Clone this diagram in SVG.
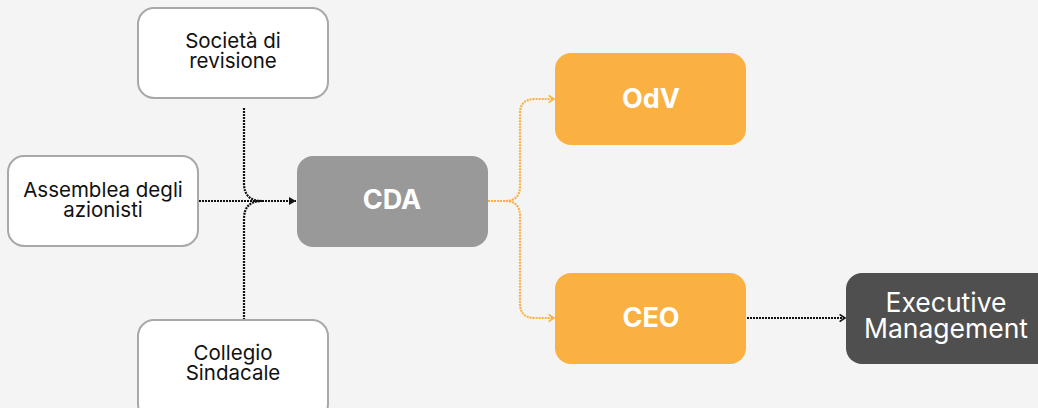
<svg xmlns="http://www.w3.org/2000/svg" width="1038" height="408" viewBox="0 0 1038 408">
<defs>
<style>
.box{fill:#ffffff;stroke:#a8a8a8;stroke-width:2}
.t{font-family:Inter,"Liberation Sans",sans-serif;font-size:20.5px;fill:#111;text-anchor:middle}
.tb{font-family:Inter,"Liberation Sans",sans-serif;font-size:27px;font-weight:700;fill:#fff;text-anchor:middle}
.tw{font-family:Inter,"Liberation Sans",sans-serif;font-size:26.5px;fill:#fff;text-anchor:middle}
.k{fill:none;stroke:#111;stroke-width:2.2;stroke-dasharray:2 1}
.o{fill:none;stroke:#fbb042;stroke-width:2.2;stroke-dasharray:2 1}
</style>
<marker id="ak" viewBox="0 0 10 10" refX="8" refY="5" markerWidth="10" markerHeight="10" markerUnits="userSpaceOnUse" orient="auto">
<path d="M1,1 L8,5 L1,9 Z" fill="#111"/>
</marker>
<marker id="ak2" viewBox="0 0 10 10" refX="8" refY="5" markerWidth="9" markerHeight="9" markerUnits="userSpaceOnUse" orient="auto">
<path d="M2,1 L8,5 L2,9" fill="none" stroke="#111" stroke-width="1.8"/>
</marker>
<marker id="ao" viewBox="0 0 10 10" refX="8" refY="5" markerWidth="9" markerHeight="9" markerUnits="userSpaceOnUse" orient="auto">
<path d="M2,1 L8,5 L2,9" fill="none" stroke="#fbb042" stroke-width="1.8"/>
</marker>
</defs>
<rect width="1038" height="408" fill="#f4f4f4"/>
<g id="connectors">
<path class="k" d="M244,108 V183 Q244,201 262,201"/>
<path class="k" d="M244,320 V219 Q244,201 262,201"/>
<path class="k" d="M199,201 H296" marker-end="url(#ak)"/>
<path class="o" d="M488,201 H505 Q520,201 520,186 V114 Q520,99 535,99 H554" marker-end="url(#ao)"/>
<path class="o" d="M488,201 H505 Q520,201 520,216 V303 Q520,318 535,318 H554" marker-end="url(#ao)"/>
<path class="k" d="M747,318 H845" marker-end="url(#ak2)"/>
</g>
<g id="societa">
<rect class="box" x="138" y="8" width="190" height="90" rx="16"/>
<text class="t" x="233" y="48">Società di</text>
<text class="t" x="233" y="68">revisione</text>
</g>
<g id="assemblea">
<rect class="box" x="8" y="156" width="190" height="90" rx="16"/>
<text class="t" x="103" y="197">Assemblea degli</text>
<text class="t" x="103" y="217">azionisti</text>
</g>
<g id="collegio">
<rect class="box" x="138" y="320" width="190" height="100" rx="16"/>
<text class="t" x="233" y="360">Collegio</text>
<text class="t" x="233" y="380">Sindacale</text>
</g>
<g id="cda">
<rect x="297" y="156" width="191" height="91" rx="16" fill="#999999"/>
<text class="tb" x="392" y="209">CDA</text>
</g>
<g id="odv">
<rect x="555" y="53" width="191" height="92" rx="16" fill="#fbb042"/>
<text class="tb" x="651" y="108">OdV</text>
</g>
<g id="ceo">
<rect x="555" y="273" width="191" height="91" rx="16" fill="#fbb042"/>
<text class="tb" x="651" y="327">CEO</text>
</g>
<g id="exec">
<rect x="846" y="273" width="210" height="91" rx="16" fill="#4f4f50"/>
<text class="tw" x="946" y="312">Executive</text>
<text class="tw" x="946" y="338">Management</text>
</g>
</svg>
